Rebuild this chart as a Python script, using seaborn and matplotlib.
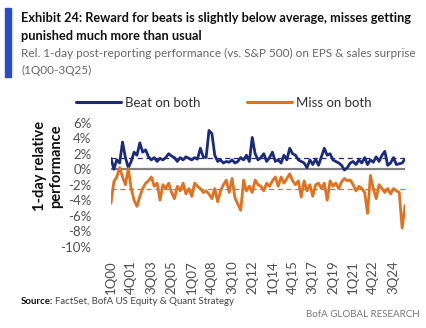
import numpy as np
import pandas as pd
import matplotlib
matplotlib.use("Agg")
import matplotlib.pyplot as plt
from matplotlib.lines import Line2D
import seaborn as sns

# ---------------- data ----------------
quarters = [f"{q}Q{y:02d}" for y in range(0, 26) for q in range(1, 5)][:103]  # 1Q00 .. 3Q25

beat_on_both = [
    1.4, 0.0, 1.2, 0.8, 3.5, 1.5, 0.2, 1.0, 2.2, 1.8,
    3.4, 2.2, 2.5, 1.6, 1.2, 1.5, 1.0, 1.4, 1.2, 1.5,
    2.0, 1.7, 1.5, 1.0, 1.5, 1.2, 1.6, 1.4, 1.2, 1.5,
    1.3, 2.7, 1.6, 1.5, 5.0, 4.6, 1.8, 1.0, 1.2, 0.8,
    1.0, 0.9, 1.2, 0.8, 1.0, 1.5, 1.2, 1.8, 1.0, 4.1,
    2.0, 1.2, 1.5, 2.0, 1.0, 1.5, 2.2, 1.0, 1.2, 0.8,
    1.8, 1.2, 2.7, 2.0, 1.8, 1.2, 1.0, 0.8, 0.2, 1.2,
    0.6, 1.3, 0.5, 1.6, 2.7, 1.8, 2.0, 1.2, 1.0, 0.8,
    0.5, -0.1, 0.2, 0.8, 1.0, 0.6, 1.2, 0.8, 1.5, 0.6,
    1.2, 0.9, 1.6, 1.0, 1.8, 2.3, 0.5, 0.8, 1.5, 0.6,
    0.7, 0.8, 1.3,
]
miss_on_both = [
    -4.4, -1.6, -1.0, 0.2, -1.0, -2.0, 0.1, -2.5, -4.0, -4.8,
    -3.5, -2.5, -1.8, -1.5, -1.0, -2.2, -1.8, -4.0, -2.0, -2.5,
    -1.8, -3.0, -3.8, -2.2, -2.8, -1.8, -3.2, -2.5, -3.5, -1.8,
    -2.2, -2.5, -3.0, -2.8, -3.2, -3.8, -2.5, -4.2, -2.8, -2.0,
    -1.4, -3.0, -1.2, -3.7, -4.5, -5.3, -1.4, -2.8, -2.2, -3.0,
    -1.4, -2.0, -2.2, -2.8, -1.8, -2.2, -1.5, -1.0, -2.2, -1.0,
    -1.8, -1.2, -0.6, -1.5, -2.0, -1.5, -3.6, -1.5, -2.8, -2.0,
    -3.5, -2.0, -1.8, -2.5, -1.8, -4.0, -1.5, -2.2, -1.8, -2.5,
    -1.6, -1.2, -1.5, -1.4, -2.0, -2.8, -2.2, -2.5, -3.0, -5.7,
    -0.8, -2.5, -3.8, -2.0, -2.5, -3.0, -2.5, -3.2, -2.5, -2.8,
    -3.0, -7.6, -4.7,
]
avg_beat = 1.5
avg_miss = -2.5
series_names = ["Beat on both", "Miss on both"]
y_ticks = [6, 4, 2, 0, -2, -4, -6, -8, -10]
tick_every = 7

title_lines = ["Exhibit 24: Reward for beats is slightly below average, misses getting",
               "punished much more than usual"]
subtitle_lines = ["Rel. 1-day post-reporting performance (vs. S&P 500) on EPS & sales surprise",
                  "(1Q00-3Q25)"]

# ---------------- style ----------------
BLUE = "#1b2a7b"
ORANGE = "#e2711f"
GRAY = "#505050"

sns.set_theme(style="white")
plt.rcParams['font.family'] = ['Lato', 'DejaVu Sans']

df = pd.DataFrame({"idx": np.arange(len(quarters)),
                   series_names[0]: beat_on_both,
                   series_names[1]: miss_on_both})
long = df.melt(id_vars="idx", var_name="series", value_name="value")

W, H = 426, 328
fig = plt.figure(figsize=(W / 100, H / 100), dpi=100)
renderer = fig.canvas.get_renderer()


def fit_text(x, y, s, target_px, fs0=10, **kw):
    t = fig.text(x / W, 1 - y / H, s, fontsize=fs0, va="baseline", **kw)
    w = t.get_window_extent(renderer).width
    t.set_fontsize(fs0 * target_px / w)
    return t


ax_bottom, ax_top = 246.7, 122.7
ax = fig.add_axes([111 / W, 1 - ax_bottom / H, 294 / W, (ax_bottom - ax_top) / H])

ax.axhline(0, color="#808080", lw=1.6, zorder=1)
ax.axhline(avg_beat, color=BLUE, lw=0.9, ls=(0, (4, 3)), zorder=1)
ax.axhline(avg_miss, color=ORANGE, lw=0.9, ls=(0, (4, 3)), zorder=1)

sns.lineplot(data=long, x="idx", y="value", hue="series",
             palette={series_names[0]: BLUE, series_names[1]: ORANGE},
             linewidth=2.0, ax=ax, legend=False, zorder=3)

ax.set_xlim(0, len(quarters) - 1)
ax.set_ylim(-10, 6)
ax.set_yticks(y_ticks)
ax.set_yticklabels([f"{v}%" for v in y_ticks], fontsize=9.5, color=GRAY)
xt = list(range(0, len(quarters), tick_every))
ax.set_xticks(xt)
ax.set_xticklabels([quarters[i] for i in xt], rotation=90, fontsize=9.5, color=GRAY)
ax.tick_params(axis="y", length=0, pad=14)
ax.tick_params(axis="x", length=0, pad=10)
for s in ax.spines.values():
    s.set_visible(False)
ax.set_xlabel("")
ax.set_ylabel("1-day relative\nperformance", fontsize=10.5, fontweight="bold",
              color="#111111", linespacing=1.15)
ax.yaxis.set_label_coords((63 - 111) / 294, (ax_bottom - 166) / (ax_bottom - ax_top))

# legends
h1 = Line2D([], [], color=BLUE, lw=2.2)
h2 = Line2D([], [], color=ORANGE, lw=2.2)
for h, name, x0 in [(h1, series_names[0], 76), (h2, series_names[1], 247)]:
    fig.legend([h], [name], loc="center left",
               bbox_to_anchor=(x0 / W, 1 - 103 / H), frameon=False,
               handlelength=3.4, handletextpad=0.3, borderpad=0, borderaxespad=0,
               prop={"size": 9.5}, labelcolor="#333333")

# titles
fig.patches.append(plt.Rectangle((5 / W, 1 - 77 / H), 6 / W, 69 / H,
                                 transform=fig.transFigure, color="#2b4bcc"))
t1 = fit_text(21, 22, title_lines[0], 389, fontweight="bold", color="#111111")
fig.text(21 / W, 1 - 40 / H, title_lines[1], fontsize=t1.get_fontsize(),
         fontweight="bold", color="#111111", va="baseline")
t3 = fit_text(21, 57, subtitle_lines[0], 394, color="#666666")
fig.text(21 / W, 1 - 74 / H, subtitle_lines[1], fontsize=t3.get_fontsize(),
         color="#666666", va="baseline")

src_fs = 6.9
src = fig.text(21 / W, 1 - 304 / H, "Source:", fontsize=src_fs, fontweight="bold",
               color="#111111", va="baseline")
sw = src.get_window_extent(renderer).width
fig.text((21 + sw + 2) / W, 1 - 304 / H, "FactSet, BofA US Equity & Quant Strategy",
         fontsize=src_fs, color="#444444", va="baseline")
fig.text(420 / W, 1 - 317 / H, "BofA GLOBAL RESEARCH", fontsize=7,
         color="#777777", va="baseline", ha="right")

fig.savefig("out.png", dpi=100, facecolor="white")
